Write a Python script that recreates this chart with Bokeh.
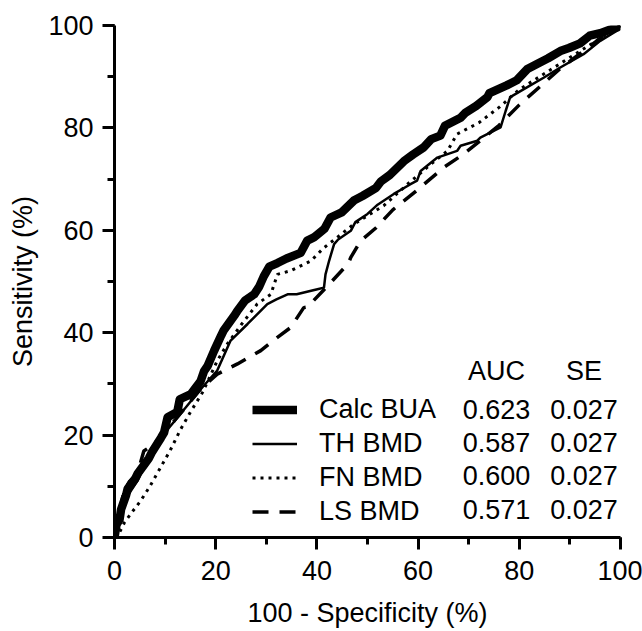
from bokeh.plotting import figure
from bokeh.models import Range1d, Legend, LegendItem, SingleIntervalTicker, ColumnDataSource
from bokeh.core.properties import value
from bokeh.embed import file_html
from bokeh.resources import INLINE

# ---- data ----
calc_x = [0, 0.4, 1.0, 1.3, 2.3, 2.6, 4.1, 4.6, 6.8, 7.3,
          9.2, 9.8, 10.5, 12.4, 12.9, 15.1, 17.0, 17.7, 18.4, 19.7,
          21.1, 21.6, 23.8, 24.3, 25.8, 27.6, 28.6, 29.5, 30.6, 32.2,
          34.0, 36.8, 38.1, 39.4, 41.5, 42.7, 44.9, 47.3, 49.0, 51.7,
          52.6, 54.4, 57.2, 59.0, 61.1, 62.6, 64.4, 65.3, 68.4, 69.4,
          71.5, 73.7, 74.1, 77.5, 79.5, 81.6, 83.5, 85.7, 88.1, 89.8,
          92.0, 93.9, 96.0, 98.0, 99.3, 100]
calc_y = [0, 2.5, 3.5, 5.5, 8.3, 9.5, 11.5, 12.5, 15.5, 16.5,
          19.5, 20.5, 23.5, 24.5, 27.0, 28.0, 30.5, 32.5, 33.5, 36.5,
          39.5, 40.5, 43.5, 44.3, 46.3, 47.5, 49.0, 51.0, 52.9, 53.6,
          54.5, 55.6, 58.0, 58.6, 60.3, 62.5, 63.5, 65.8, 66.7, 68.3,
          69.5, 70.8, 73.5, 74.8, 76.2, 77.8, 78.5, 80.4, 82.0, 83.0,
          84.3, 86.0, 86.8, 88.3, 89.3, 91.5, 92.5, 93.6, 95.0, 95.6,
          96.5, 98.0, 98.5, 99.2, 99.6, 100]

th_x = [0, 0.5, 1.5, 2.5, 4.5, 6.0, 8.0, 10.0, 12.5, 15.0,
        17.5, 20.3, 22.9, 26.3, 30.2, 32.0, 34.2, 36.0, 40.1, 41.4,
        41.7, 42.4, 43.4, 44.2, 46.7, 47.6, 50.0, 52.0, 55.2, 58.5,
        59.8, 60.5, 63.8, 67.7, 68.4, 71.7, 72.3, 76.3, 77.3, 78.2,
        81.5, 84.8, 88.1, 92.7, 96.0, 99.3, 100]
th_y = [0, 2.0, 4.5, 8.0, 11.0, 14.0, 17.0, 20.5, 23.5, 26.5,
        29.5, 32.6, 38.4, 41.7, 45.6, 46.5, 47.5, 47.5, 48.5, 48.8,
        51.4, 54.0, 57.3, 58.2, 59.9, 61.6, 63.2, 65.0, 67.1, 69.0,
        69.7, 71.6, 74.2, 75.5, 76.5, 77.5, 78.1, 80.1, 83.3, 86.0,
        87.9, 89.8, 91.8, 94.4, 97.0, 99.0, 100]

fn_x = [0, 1, 2, 3.5, 5.2, 7, 9, 11, 13, 15,
        17.5, 20.3, 22.3, 25, 28.2, 30.9, 32.2, 34.8, 38.8, 41.4,
        44, 47.3, 53.2, 57.9, 62.5, 65.8, 67.7, 72, 76, 80,
        84, 88, 92, 96, 100]
fn_y = [0, 1, 3, 5, 7.2, 10, 13.5, 17, 21, 24.5,
        28.5, 34.5, 37.8, 41.5, 45.6, 47.5, 51.4, 52.1, 54, 56.6,
        58.6, 61.2, 64.8, 69, 72.9, 75.5, 78.8, 81, 84, 87.5,
        90, 92.5, 95, 97.5, 100]

ls_x = [0, 0.5, 1.9, 3, 4.5, 5.8, 7.5, 9.5, 12, 14.5,
        17, 20.3, 24.3, 28.9, 32.2, 34.8, 37.4, 38.1, 42, 46.2,
        46.7, 48.6, 51.7, 55, 60, 65.1, 69, 72.3, 76, 80,
        84, 88, 92, 96, 100]
ls_y = [0, 3, 9.1, 11, 12.4, 16.9, 18, 20, 23, 26,
        29, 31.9, 33.9, 36.5, 39.1, 41, 44.9, 45, 49, 53.5,
        54.7, 57.9, 60.5, 64, 68, 72.3, 74.9, 77.5, 80.5, 84.5,
        88, 91.5, 94.5, 97.5, 100]

series_names = ["Calc BUA", "TH BMD", "FN BMD", "LS BMD"]
auc_values = ["0.623", "0.587", "0.600", "0.571"]
se_values = ["0.027", "0.027", "0.027", "0.027"]
x_ticks = [0, 20, 40, 60, 80, 100]
y_ticks = [0, 20, 40, 60, 80, 100]

# ---- layout constants ----
FONT = "Liberation Sans"
FS = "27px"
col_auc_x = 75.5
col_se_x = 92.8
header_y = 32.6
row_y = [25.0, 18.6, 12.1, 5.5]

p = figure(frame_width=506, frame_height=512,
           min_border_left=114, min_border_right=22,
           min_border_top=25, min_border_bottom=94,
           x_range=Range1d(0, 100), y_range=Range1d(0, 100),
           output_backend="svg", toolbar_location=None)
p.outline_line_color = None
p.xgrid.visible = False
p.ygrid.visible = False
p.background_fill_color = "white"

r_calc = p.line(calc_x, calc_y, line_color="black", line_width=8.5, line_join="round")
r_th = p.line(th_x, th_y, line_color="black", line_width=2.5)
r_fn = p.line(fn_x, fn_y, line_color="black", line_width=3, line_dash="3 5")
r_ls = p.line(ls_x, ls_y, line_color="black", line_width=3.5, line_dash="16 11")

for ax, ticks in ((p.xaxis[0], x_ticks), (p.yaxis[0], y_ticks)):
    ax.ticker = SingleIntervalTicker(interval=ticks[1] - ticks[0], num_minor_ticks=2)
    ax.axis_line_width = 3
    ax.axis_line_color = "black"
    ax.major_tick_line_width = 3
    ax.minor_tick_line_width = 3
    ax.major_tick_line_color = "black"
    ax.minor_tick_line_color = "black"
    ax.major_tick_in = 0
    ax.minor_tick_in = 0
    ax.major_tick_out = 12
    ax.minor_tick_out = 7
    ax.major_label_text_font = FONT
    ax.major_label_text_font_size = FS
    ax.major_label_text_color = "black"
    ax.axis_label_text_font = FONT
    ax.axis_label_text_font_size = FS
    ax.axis_label_text_font_style = "normal"
    ax.axis_label_text_color = "black"

p.xaxis.axis_label = "100 - Specificity (%)"
p.yaxis.axis_label = "Sensitivity (%)"
p.xaxis.major_label_standoff = 11
p.xaxis.axis_label_standoff = 15
p.yaxis.major_label_standoff = 9
p.yaxis.axis_label_standoff = 7

legend = Legend(items=[LegendItem(label=n, renderers=[r]) for n, r in
                       zip(series_names, [r_calc, r_th, r_fn, r_ls])],
                location=(138, 10), border_line_color=None,
                background_fill_alpha=0, padding=0, margin=0, spacing=3,
                glyph_width=45, glyph_height=31, label_height=31,
                label_standoff=22, label_text_font=FONT,
                label_text_font_size=FS, label_text_color="black")
p.add_layout(legend)

table = ColumnDataSource(dict(
    x=[col_auc_x, col_se_x] + [col_auc_x] * 4 + [col_se_x] * 4,
    y=[header_y, header_y] + row_y + row_y,
    t=["AUC", "SE"] + auc_values + se_values,
))
p.text(x="x", y="y", text="t", source=table, text_font=value(FONT),
       text_font_size=FS, text_align="center", text_baseline="middle",
       text_color="black")

open("out.html", "w").write(file_html(p, INLINE))
